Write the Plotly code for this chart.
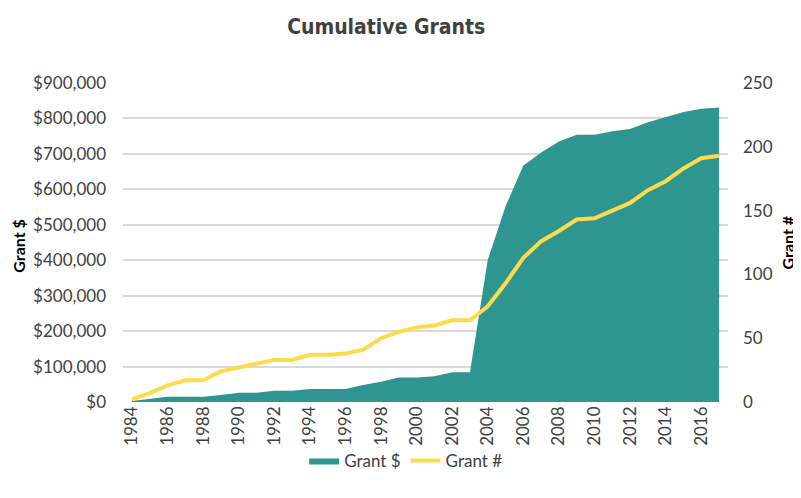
import plotly.graph_objects as go

years = list(range(1984, 2018))
grant_dollars = [3000, 8000, 15000, 15000, 15000, 20000, 26000, 26000, 32000, 32000,
                 37000, 37000, 37000, 48000, 57000, 69000, 69000, 73000, 84000, 84000,
                 401000, 552000, 667000, 704000, 735000, 754000, 754000, 764000, 770000,
                 789000, 804000, 818000, 827000, 831000]
grant_counts = [2, 7, 13, 17, 17, 24, 27, 30, 33, 33,
                37, 37, 38, 41, 50, 55, 58.5, 60, 64, 64,
                75, 93, 113, 126, 134, 143, 144, 150, 156,
                166, 173, 183, 191, 193]
tick_years = list(range(1984, 2017, 2))
left_ticks = list(range(0, 900001, 100000))
right_ticks = list(range(0, 251, 50))

TEAL = "#2E9591"
YELLOW = "#FDDB4B"
TXT = "#404040"
FONT = "Lato"

fig = go.Figure()
fig.add_trace(go.Scatter(
    x=years, y=grant_dollars, name="Grant $", mode="lines",
    fill="tozeroy", fillcolor=TEAL, line=dict(color=TEAL, width=0),
    yaxis="y"))
fig.add_trace(go.Scatter(
    x=years, y=grant_counts, name="Grant #", mode="lines",
    line=dict(color=YELLOW, width=4), yaxis="y2"))

# page body has an 8px margin, so the figure is 793x490 placed at (8, 8)
fig.update_layout(
    width=793, height=490, autosize=False,
    margin=dict(l=115, r=73, t=75, b=96, autoexpand=False),
    paper_bgcolor="white", plot_bgcolor="white",
    font=dict(family=FONT, size=17, color=TXT),
    title=dict(text="<b>Cumulative Grants</b>", x=0.477, xanchor="center",
               y=0.961, yanchor="middle", automargin=False,
               font=dict(family="DejaVu Sans Condensed, Liberation Sans Narrow, Roboto",
                         size=21, color=TXT)),
    showlegend=True,
    legend=dict(orientation="h", x=0.468, xanchor="center", yref="container",
                y=0.0755, yanchor="middle", font=dict(size=17, color=TXT),
                bgcolor="rgba(0,0,0,0)", itemwidth=30, tracegroupgap=0),
    xaxis=dict(range=[1983.5, 2017.5], tickmode="array", tickvals=tick_years,
               ticktext=[str(y) for y in tick_years], tickangle=-90,
               showgrid=False, zeroline=False, showline=False, ticks="",
               automargin=False, tickfont=dict(size=17, color=TXT)),
    yaxis=dict(range=[0, 900000], tickmode="array", tickvals=left_ticks,
               tickformat="$,.0f", showgrid=True, gridcolor="#D9D9D9",
               gridwidth=1.5, zeroline=False, showline=False, ticks="",
               ticklabelstandoff=16, automargin=False),
    yaxis2=dict(range=[0, 250], tickmode="array", tickvals=right_ticks,
                overlaying="y", side="right", showgrid=False, zeroline=False,
                showline=False, ticks="", ticklabelstandoff=14, automargin=False),
    annotations=[
        dict(text="<b>Grant $</b>", textangle=-90, xref="paper", yref="paper",
             x=-0.172, y=0.49, xanchor="center", yanchor="middle",
             showarrow=False, font=dict(size=16, color="#000000")),
        dict(text="<b>Grant #</b>", textangle=-90, xref="paper", yref="paper",
             x=1.099, y=0.50, xanchor="center", yanchor="middle",
             showarrow=False, font=dict(size=16, color="#000000")),
    ],
)

fig.write_html("out.html")
